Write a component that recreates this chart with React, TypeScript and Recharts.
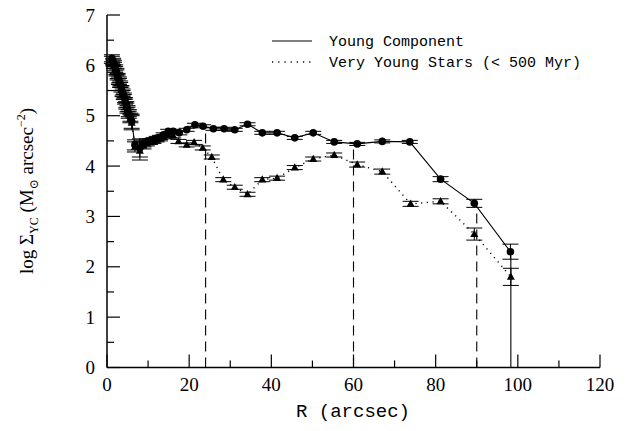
import { ScatterChart, Scatter, XAxis, YAxis, ErrorBar, ReferenceLine } from 'recharts';

// Young Component (circles, solid line)
const ycRadius = [1.2, 1.5, 1.7, 2.0, 2.3, 2.6, 2.9, 3.2, 3.5, 3.8, 4.1, 4.4, 4.7, 5.0, 5.3, 5.7, 6.0,
    6.8, 8.0, 8.9, 9.7, 10.5, 11.3, 12.1, 12.9, 13.8, 14.9, 16.1, 17.6, 19.4, 21.4, 23.4, 25.9, 28.5,
    31.1, 34.2, 37.8, 41.4, 45.7, 50.2, 55.3, 60.9, 67.0, 73.7, 81.2, 89.4, 98.2];
const ycLogSigma = [6.14, 6.08, 6.03, 5.95, 5.88, 5.79, 5.71, 5.64, 5.55, 5.47, 5.40, 5.31, 5.22, 5.14, 5.05, 4.97, 4.89,
    4.42, 4.36, 4.44, 4.49, 4.50, 4.52, 4.55, 4.57, 4.62, 4.69, 4.69, 4.66, 4.72, 4.82, 4.79, 4.74, 4.74,
    4.72, 4.83, 4.66, 4.66, 4.56, 4.66, 4.48, 4.44, 4.49, 4.48, 3.74, 3.26, 2.30];
const ycError = [0.07, 0.06, 0.06, 0.06, 0.06, 0.05, 0.06, 0.05, 0.05, 0.06, 0.05, 0.05, 0.06, 0.06, 0.07, 0.08, 0.14,
    0.1, 0.18, 0.06, 0.05, 0.04, 0.04, 0.04, 0.04, 0.04, 0.04, 0.04, 0.04, 0.03, 0.03, 0.03, 0.03, 0.03,
    0.03, 0.03, 0.03, 0.03, 0.03, 0.03, 0.03, 0.03, 0.03, 0.03, 0.05, 0.08, 0.15];

// Very Young Stars (triangles, dotted line)
const vysRadius = [1.2, 1.5, 1.7, 2.0, 2.3, 2.6, 2.9, 3.2, 3.5, 3.8, 4.1, 4.4, 4.7, 5.0, 5.3, 5.7, 6.0,
    6.8, 8.0, 8.9, 9.7, 10.5, 11.3, 12.1, 12.9, 13.8, 14.9, 16.1, 17.4, 19.4, 21.2, 23.3, 25.5, 28.3,
    31.1, 34.2, 37.8, 41.4, 45.7, 50.2, 55.3, 60.9, 67.0, 73.9, 81.2, 89.4, 98.3];
const vysLogSigma = [6.11, 6.05, 6.00, 5.92, 5.85, 5.76, 5.68, 5.61, 5.52, 5.44, 5.37, 5.28, 5.19, 5.11, 5.02, 4.94, 4.86,
    4.38, 4.30, 4.40, 4.45, 4.47, 4.49, 4.52, 4.54, 4.58, 4.62, 4.60, 4.49, 4.42, 4.47, 4.36, 4.18, 3.73,
    3.58, 3.44, 3.73, 3.76, 3.97, 4.14, 4.22, 4.03, 3.89, 3.25, 3.30, 2.65, 1.80];
const vysError = [0.07, 0.06, 0.06, 0.06, 0.06, 0.05, 0.06, 0.05, 0.05, 0.06, 0.05, 0.05, 0.06, 0.06, 0.07, 0.08, 0.14,
    0.1, 0.18, 0.06, 0.05, 0.04, 0.04, 0.04, 0.04, 0.04, 0.04, 0.04, 0.04, 0.04, 0.04, 0.04, 0.04, 0.04,
    0.04, 0.04, 0.04, 0.04, 0.04, 0.04, 0.04, 0.05, 0.05, 0.05, 0.05, 0.12, 0.17];

// vertical cut lines
const cutRadius = [24, 60, 90, 98.3];
const cutTop = [4.78, 4.42, 3.2, 2.3];
const cutDash = ['10 6', '10 6', '10 6', undefined];

const xTicks = [0, 10, 20, 30, 40, 50, 60, 70, 80, 90, 100, 110, 120];
const xLabels = [0, 20, 40, 60, 80, 100, 120];
const yTicks = [0, 0.5, 1, 1.5, 2, 2.5, 3, 3.5, 4, 4.5, 5, 5.5, 6, 6.5, 7];
const yLabels = [0, 1, 2, 3, 4, 5, 6, 7];

const ycData = ycRadius.map((r, i) => ({ r, s: ycLogSigma[i], err: ycError[i] }));
const vysData = vysRadius.map((r, i) => ({ r, s: vysLogSigma[i], err: vysError[i] }));

const TICK_FONT = '"Liberation Serif", "DejaVu Serif", serif';
const MONO_FONT = '"Liberation Mono", "DejaVu Sans Mono", monospace';

function FrameTick(props: any) {
    const { x, y, payload, side, gap, labels } = props;
    const v = payload.value;
    const major = labels.includes(v);
    const len = major ? 13 : 7;
    let line;
    let label = null;
    if (side === 'bottom') {
        const base = y - gap;
        line = <line x1={x} x2={x} y1={base} y2={base - len} stroke="#000" strokeWidth={1.2} />;
        if (major) label = <text x={x} y={y} dy="0.75em" textAnchor="middle" fontSize={19} fontFamily={TICK_FONT} fill="#000">{v}</text>;
    } else if (side === 'left') {
        const base = x + gap;
        line = <line x1={base} x2={base + len} y1={y} y2={y} stroke="#000" strokeWidth={1.2} />;
        if (major) label = <text x={x} y={y} dy="0.35em" textAnchor="end" fontSize={19} fontFamily={TICK_FONT} fill="#000">{v}</text>;
    } else if (side === 'top') {
        line = <line x1={x} x2={x} y1={y} y2={y + len} stroke="#000" strokeWidth={1.2} />;
    } else {
        line = <line x1={x} x2={x - len} y1={y} y2={y} stroke="#000" strokeWidth={1.2} />;
    }
    return (
        <g>
            {line}
            {label}
        </g>
    );
}

function Circle(props: any) {
    return <circle cx={props.cx} cy={props.cy} r={3.8} fill="#000" />;
}

function Triangle(props: any) {
    const { cx, cy } = props;
    return <polygon points={`${cx},${cy - 4.3} ${cx - 4},${cy + 2.9} ${cx + 4},${cy + 2.9}`} fill="#000" />;
}

export default function App() {
    return (
        <div style={{ position: 'absolute', left: 0, top: 0, width: 629, height: 431, background: '#fff' }}>
            <ScatterChart width={629} height={431} margin={{ top: 15, right: 29, bottom: 23.5, left: 47 }}>
                <XAxis
                    dataKey="r"
                    type="number"
                    domain={[0, 120]}
                    ticks={xTicks}
                    interval={0}
                    height={40}
                    tickSize={0}
                    tickMargin={9}
                    tickLine={false}
                    axisLine={{ stroke: '#000', strokeWidth: 1.5 }}
                    tick={(p: any) => <FrameTick {...p} side="bottom" gap={9} labels={xLabels} />}
                />
                <XAxis
                    xAxisId="top"
                    orientation="top"
                    type="number"
                    domain={[0, 120]}
                    ticks={xTicks}
                    interval={0}
                    height={0}
                    tickSize={0}
                    tickMargin={0}
                    tickLine={false}
                    axisLine={{ stroke: '#000', strokeWidth: 1.5 }}
                    tick={(p: any) => <FrameTick {...p} side="top" gap={0} labels={xLabels} />}
                />
                <YAxis
                    dataKey="s"
                    type="number"
                    domain={[0, 7]}
                    ticks={yTicks}
                    interval={0}
                    width={60}
                    tickSize={0}
                    tickMargin={12}
                    tickLine={false}
                    axisLine={{ stroke: '#000', strokeWidth: 1.5 }}
                    tick={(p: any) => <FrameTick {...p} side="left" gap={12} labels={yLabels} />}
                />
                <YAxis
                    yAxisId="right"
                    orientation="right"
                    type="number"
                    domain={[0, 7]}
                    ticks={yTicks}
                    interval={0}
                    width={0}
                    tickSize={0}
                    tickMargin={0}
                    tickLine={false}
                    axisLine={{ stroke: '#000', strokeWidth: 1.5 }}
                    tick={(p: any) => <FrameTick {...p} side="right" gap={0} labels={yLabels} />}
                />

                {cutRadius.map((r, i) => (
                    <ReferenceLine
                        key={r}
                        segment={[{ x: r, y: 0 }, { x: r, y: cutTop[i] }]}
                        stroke="#000"
                        strokeWidth={1.1}
                        strokeDasharray={cutDash[i]}
                    />
                ))}

                <Scatter
                    name="Very Young Stars (< 500 Myr)"
                    data={vysData}
                    line={{ stroke: '#000', strokeWidth: 1.4, strokeDasharray: '1.2 4.5' }}
                    lineType="joint"
                    shape={Triangle}
                    isAnimationActive={false}
                >
                    <ErrorBar dataKey="err" direction="y" width={8} stroke="#000" strokeWidth={1} />
                </Scatter>
                <Scatter
                    name="Young Component"
                    data={ycData}
                    line={{ stroke: '#000', strokeWidth: 1.1 }}
                    lineType="joint"
                    shape={Circle}
                    isAnimationActive={false}
                >
                    <ErrorBar dataKey="err" direction="y" width={8} stroke="#000" strokeWidth={1} />
                </Scatter>

                {/* legend */}
                <line x1={272} x2={312} y1={41} y2={41} stroke="#000" strokeWidth={1.1} />
                <text x={329} y={41} dy="0.35em" fontSize={15} fontFamily={MONO_FONT} fill="#000">Young Component</text>
                <line x1={272} x2={312} y1={62} y2={62} stroke="#000" strokeWidth={1.4} strokeDasharray="1.2 5" />
                <text x={329} y={62} dy="0.35em" fontSize={15} fontFamily={MONO_FONT} fill="#000">Very Young Stars (&lt; 500 Myr)</text>

                {/* axis titles */}
                <text x={353} y={410} dy="0.35em" textAnchor="middle" fontSize={19} fontFamily={MONO_FONT} fill="#000">R (arcsec)</text>
                <text
                    transform="translate(26, 191) rotate(-90)"
                    textAnchor="middle"
                    dy="0.35em"
                    fontSize={19}
                    fontFamily={TICK_FONT}
                    fill="#000"
                >
                    log Σ<tspan fontSize={12} dy={5}>YC</tspan>
                    <tspan dy={-5}> (M</tspan>
                    <tspan fontSize={12} dy={5}>⊙</tspan>
                    <tspan dy={-5}> arcsec</tspan>
                    <tspan fontSize={12} dy={-8}>−2</tspan>
                    <tspan dy={8}>)</tspan>
                </text>
            </ScatterChart>
        </div>
    );
}
